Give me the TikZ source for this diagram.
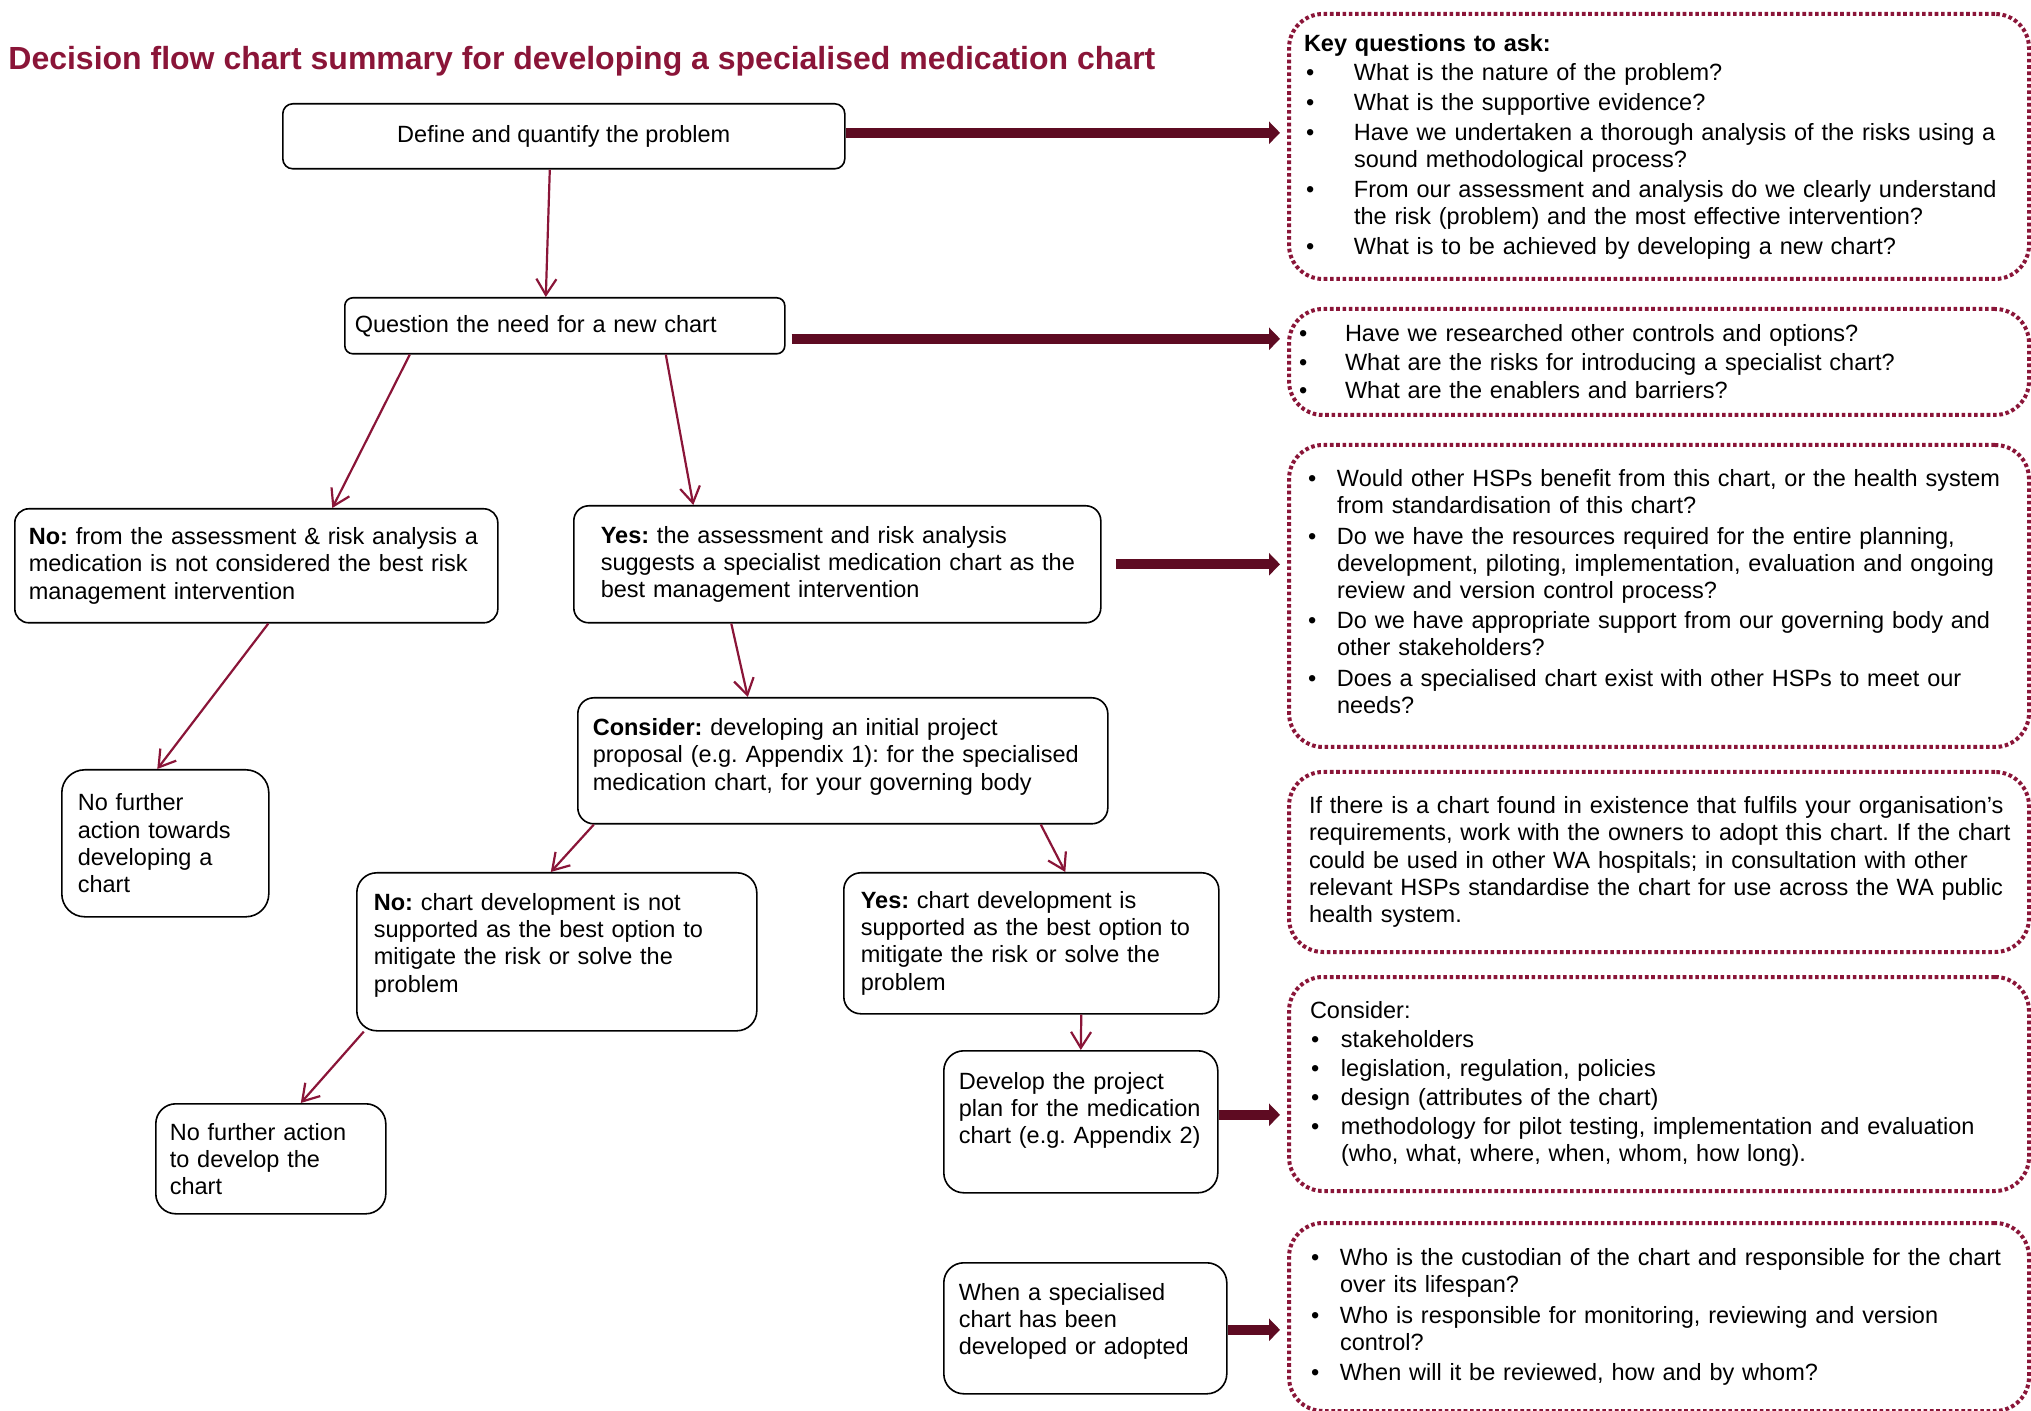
\documentclass[tikz,border=0pt]{standalone}
\usepackage{fontspec}
\setmainfont{Liberation Sans}
\usetikzlibrary{positioning, arrows.meta}
\definecolor{wine}{HTML}{8A1538}
\definecolor{darkwine}{HTML}{5E0B22}
\newcommand{\bodyfont}{\fontsize{11.75}{13.6}\selectfont\frenchspacing}
\newlength\bhang
\newlength\boff
\newlength\bgap
% bullet, next bullet item, continued line
\newcommand{\bul}{\makebox[\bhang][l]{\hspace{\boff}\textbullet}}
\newcommand{\itm}[1]{\par\vspace{\bgap}\noindent\bul#1}
\newcommand{\cnt}[1]{\par\noindent\hspace*{\bhang}#1}
% extra room under the last line
\newcommand{\lift}[1]{\rule[-#1]{0pt}{#1}}

\begin{document}
\begin{tikzpicture}[x=0.5pt, y=-0.5pt,
  stepbox/.style={draw=black, line width=0.8pt, anchor=north west, inner ysep=0pt, font=\bodyfont},
  leftbox/.style={stepbox, execute at begin node={\rightskip=-40pt plus 1fil\relax\parindent=0pt}},
  notebox/.style={leftbox, draw=wine, line width=2pt, dash pattern=on 1.8pt off 1.35pt, rounded corners=17pt, minimum width=370pt},
  flow/.style={draw=wine, line width=1.1pt, -{Straight Barb[length=8pt,width=10pt]}},
  heavy/.style={draw=darkwine, line width=5pt, -{Triangle[length=5.5pt,width=11pt]}}]
\useasboundingbox (0,0) rectangle (2031,1411);

% title
\node[anchor=base west, inner sep=0pt, text=wine, font=\fontsize{16}{19}\selectfont\bfseries] (title) at (8,70)
  {Decision flow chart summary for developing a specialised medication chart};

% flow boxes
\node[stepbox, rounded corners=5pt, minimum width=281pt, minimum height=32.5pt] (def) at (282,103)
  {Define and quantify the problem};
\node[leftbox, rounded corners=4pt, minimum width=220pt, minimum height=28pt, inner xsep=5pt, text width=210pt] (quest) at (344,297)
  {Question the need for a new chart};
\node[leftbox, rounded corners=7pt, minimum width=241.5pt, minimum height=57pt, inner xsep=7pt, text width=227.5pt] (nofit) at (14,508)
  {\textbf{No:} from the assessment \& risk analysis a\\
   medication is not considered the best risk\\
   management intervention};
\node[leftbox, rounded corners=7.5pt, minimum width=263.5pt, minimum height=58.5pt, inner xsep=13.5pt, text width=236.5pt] (fit) at (573,505)
  {\textbf{Yes:} the assessment and risk analysis\\
   suggests a specialist medication chart as the\\
   best management intervention};
\node[leftbox, rounded corners=8pt, minimum width=265pt, minimum height=63pt, inner xsep=7.5pt, text width=250pt] (proposal) at (577,697)
  {\textbf{Consider:} developing an initial project\\
   proposal (e.g. Appendix 1): for the specialised\\
   medication chart, for your governing body\lift{6.5pt}};
\node[leftbox, rounded corners=11.5pt, minimum width=103.5pt, minimum height=73.5pt, inner xsep=8pt, text width=87.5pt] (stopA) at (61,769)
  {No further\\ action towards\\ developing a\\ chart};
\node[leftbox, rounded corners=10pt, minimum width=200pt, minimum height=79pt, inner xsep=8.5pt, text width=183pt] (nodev) at (356,872)
  {\textbf{No:} chart development is not\\
   supported as the best option to\\
   mitigate the risk or solve the\\
   problem\lift{9pt}};
\node[leftbox, rounded corners=8.5pt, minimum width=187.5pt, minimum height=70.5pt, inner xsep=8.5pt, text width=170.5pt] (dev) at (843,872)
  {\textbf{Yes:} chart development is\\
   supported as the best option to\\
   mitigate the risk or solve the\\
   problem};
\node[leftbox, rounded corners=10pt, minimum width=115pt, minimum height=55pt, inner xsep=7pt, text width=101pt] (stopB) at (155,1103)
  {No further action\\ to develop the\\ chart};
\node[leftbox, rounded corners=10pt, minimum width=137pt, minimum height=71pt, inner xsep=7.5pt, text width=122pt] (plan) at (943,1050)
  {Develop the project\\ plan for the medication\\ chart (e.g. Appendix 2)\lift{13.8pt}};
\node[leftbox, rounded corners=10pt, minimum width=141.5pt, minimum height=65.5pt, inner xsep=7.5pt, text width=126.5pt] (done) at (943,1262)
  {When a specialised\\ chart has been\\ developed or adopted\lift{9.5pt}};

% notes on the right
\node[notebox, minimum height=132.5pt, inner xsep=7.5pt, text width=355pt] (key) at (1287,12)
  {\setlength\bhang{25pt}\setlength\boff{1pt}\setlength\bgap{1.25pt}%
   \textbf{Key questions to ask:}
   \itm{What is the nature of the problem?}
   \itm{What is the supportive evidence?}
   \itm{Have we undertaken a thorough analysis of the risks using a}
   \cnt{sound methodological process?}
   \itm{From our assessment and analysis do we clearly understand}
   \cnt{the risk (problem) and the most effective intervention?}
   \itm{What is to be achieved by developing a new chart?}};
\node[notebox, minimum height=53pt, inner xsep=4pt, text width=362pt] (options) at (1287,307)
  {\setlength\bhang{24pt}\setlength\boff{1pt}\setlength\bgap{0.7pt}%
   \bul Have we researched other controls and options?
   \itm{What are the risks for introducing a specialist chart?}
   \itm{What are the enablers and barriers?}};
\node[notebox, minimum height=151pt, inner xsep=7.5pt, text width=355pt] (hsps) at (1287,443)
  {\setlength\bhang{16.5pt}\setlength\boff{2pt}\setlength\bgap{1.5pt}%
   \bul Would other HSPs benefit from this chart, or the health system
   \cnt{from standardisation of this chart?}
   \itm{Do we have the resources required for the entire planning,}
   \cnt{development, piloting, implementation, evaluation and ongoing}
   \cnt{review and version control process?}
   \itm{Do we have appropriate support from our governing body and}
   \cnt{other stakeholders?}
   \itm{Does a specialised chart exist with other HSPs to meet our}
   \cnt{needs?}\lift{4.5pt}};
\node[notebox, minimum height=90pt, inner xsep=10pt, text width=350pt] (exists) at (1287,770)
  {If there is a chart found in existence that fulfils your organisation’s\\
   requirements, work with the owners to adopt this chart. If the chart\\
   could be used in other WA hospitals; in consultation with other\\
   relevant HSPs standardise the chart for use across the WA public\\
   health system.};
\node[notebox, minimum height=107pt, inner xsep=10.5pt, text width=349pt] (scope) at (1287,975)
  {\setlength\bhang{15.5pt}\setlength\boff{0.5pt}\setlength\bgap{0.8pt}%
   Consider:
   \itm{stakeholders}
   \itm{legislation, regulation, policies}
   \itm{design (attributes of the chart)}
   \itm{methodology for pilot testing, implementation and evaluation}
   \cnt{(who, what, where, when, whom, how long).}};
\node[notebox, minimum height=94pt, inner xsep=10.5pt, text width=349pt] (review) at (1287,1221)
  {\setlength\bhang{15pt}\setlength\boff{0.5pt}\setlength\bgap{1.5pt}%
   \bul Who is the custodian of the chart and responsible for the chart
   \cnt{over its lifespan?}
   \itm{Who is responsible for monitoring, reviewing and version}
   \cnt{control?}
   \itm{When will it be reviewed, how and by whom?}};

% decision arrows
\draw[flow] ([xshift=-7pt]def.south) -- ([xshift=-9.5pt]quest.north);
\draw[flow] ([xshift=-77.5pt]quest.south) -- ([xshift=38pt]nofit.north);
\draw[flow] ([xshift=50.5pt]quest.south) -- ([xshift=-72pt]fit.north);
\draw[flow] ([xshift=-53pt]fit.south) -- ([xshift=-47.5pt]proposal.north);
\draw[flow] ([xshift=6pt]nofit.south) -- ([xshift=-4pt]stopA.north);
\draw[flow] ([xshift=-124.5pt]proposal.south) -- ([xshift=-3pt]nodev.north);
\draw[flow] ([xshift=99pt]proposal.south) -- ([xshift=17pt]dev.north);
\draw[flow] ([xshift=-96.5pt]nodev.south) -- ([xshift=15pt]stopB.north);
\draw[flow] ([xshift=25pt]dev.south) -- (plan.north);

% links to the notes
\coordinate (h1) at ([yshift=1.75pt]def.east);
\coordinate (h2) at ([yshift=-6.5pt]quest.east);
\coordinate (h3) at (fit.east);
\coordinate (h4) at ([yshift=3.5pt]plan.east);
\coordinate (h5) at ([yshift=-0.75pt]done.east);
\draw[heavy, shorten >=3.5pt] (h1) -- (h1 -| key.west);
\draw[heavy, shorten <=3pt, shorten >=3.5pt] (h2) -- (h2 -| options.west);
\draw[heavy, shorten <=7pt, shorten >=3.5pt] (h3) -- (h3 -| hsps.west);
\draw[heavy, shorten >=3.5pt] (h4) -- (h4 -| scope.west);
\draw[heavy, shorten >=3.5pt] (h5) -- (h5 -| review.west);
\end{tikzpicture}
\end{document}
